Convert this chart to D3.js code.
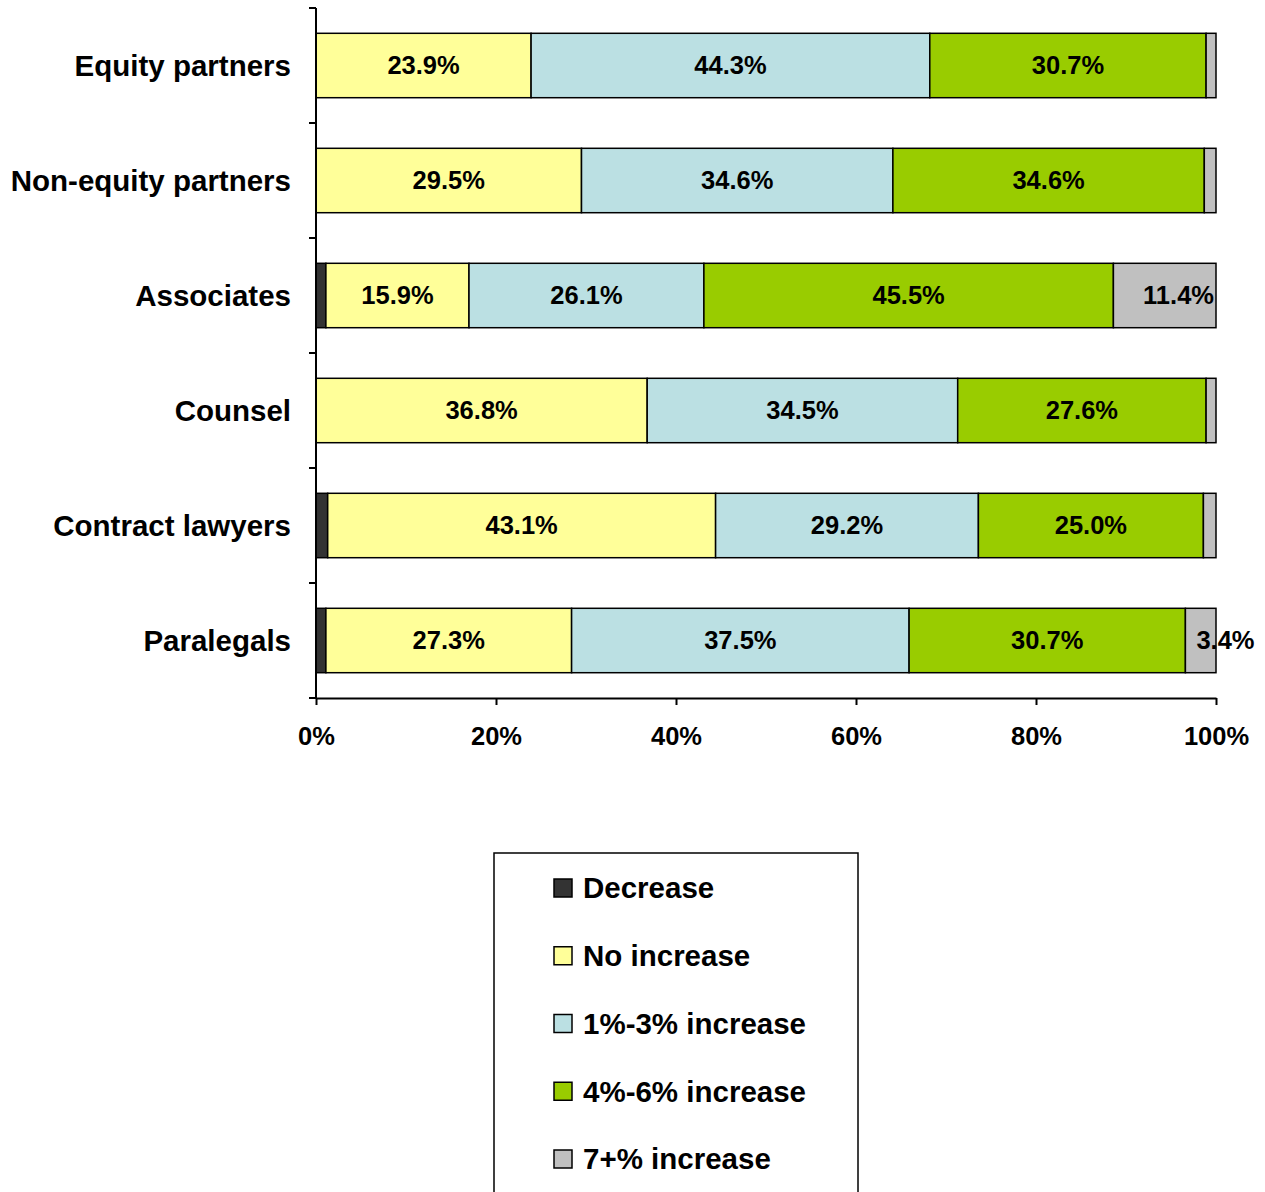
<!DOCTYPE html>
<html>
<head>
<meta charset="utf-8">
<script src="https://cdn.jsdelivr.net/npm/d3@7"></script>
<style>
  body { margin: 0; background: #fff; }
  svg text { font-family: Arial, "Liberation Sans", sans-serif; font-weight: bold; fill: #000; }
</style>
</head>
<body>
<svg id="chart"></svg>
<script>
const categories = ["Equity partners", "Non-equity partners", "Associates", "Counsel", "Contract lawyers", "Paralegals"];
const seriesNames = ["Decrease", "No increase", "1%-3% increase", "4%-6% increase", "7+% increase"];
const seriesColors = ["#333333", "#FFFF99", "#BBE0E3", "#99CC00", "#C0C0C0"];

const decrease   = [0, 0, 1.1, 0, 1.3, 1.1];
const noIncrease = [23.9, 29.5, 15.9, 36.8, 43.1, 27.3];
const inc1to3    = [44.3, 34.6, 26.1, 34.5, 29.2, 37.5];
const inc4to6    = [30.7, 34.6, 45.5, 27.6, 25.0, 30.7];
const inc7plus   = [1.1, 1.3, 11.4, 1.1, 1.4, 3.4];

const xTicks = [0, 0.2, 0.4, 0.6, 0.8, 1];

const width = 1265;
const height = 1192;

const svg = d3.select("#chart")
  .attr("width", width)
  .attr("height", height);

// build rows for the stack
const allSeries = [decrease, noIncrease, inc1to3, inc4to6, inc7plus];
const rows = categories.map((c, i) => {
  const r = { category: c };
  seriesNames.forEach((s, j) => r[s] = allSeries[j][i]);
  return r;
});

const stacked = d3.stack()
  .keys(seriesNames)
  .offset(d3.stackOffsetExpand)(rows);

const x = d3.scaleLinear().domain([0, 1]).range([316, 1216]);
const y = d3.scaleBand()
  .domain(categories)
  .range([8, 698])
  .paddingInner(0.44)
  .paddingOuter(0.22);

const color = d3.scaleOrdinal().domain(seriesNames).range(seriesColors);

// bars
const layer = svg.selectAll("g.layer")
  .data(stacked)
  .join("g")
  .attr("class", "layer")
  .attr("fill", d => color(d.key));

layer.selectAll("rect")
  .data(d => d.filter(p => p[1] - p[0] > 0))
  .join("rect")
  .attr("x", d => x(d[0]))
  .attr("y", d => y(d.data.category))
  .attr("width", d => x(d[1]) - x(d[0]))
  .attr("height", y.bandwidth())
  .attr("stroke", "#000")
  .attr("stroke-width", 1.5);

// value labels (small slices are left unlabelled)
stacked.forEach((s, si) => {
  s.forEach(d => {
    const v = d.data[s.key];
    if (v < 2) return;
    const x0 = x(d[0]), x1 = x(d[1]);
    const t = svg.append("text")
      .attr("y", y(d.data.category) + y.bandwidth() / 2)
      .attr("dy", "0.35em")
      .style("font-size", "25.5px")
      .text(v.toFixed(1) + "%");
    if (si === seriesNames.length - 1) {
      const w = t.node().getComputedTextLength();
      if (w > x1 - x0) t.attr("x", x0 + 11).attr("text-anchor", "start");
      else t.attr("x", x1 - 2).attr("text-anchor", "end");
    } else {
      t.attr("x", (x0 + x1) / 2).attr("text-anchor", "middle");
    }
  });
});

// y axis line + category boundary ticks
const gap = (y.step() - y.bandwidth()) / 2;
const yAxis = svg.append("g");
yAxis.append("line")
  .attr("x1", x(0)).attr("x2", x(0))
  .attr("y1", y.range()[0]).attr("y2", y.range()[1])
  .attr("stroke", "#000").attr("stroke-width", 2);
const bounds = categories.map(c => y(c) - gap).concat([y.range()[1]]);
yAxis.selectAll("line.tick")
  .data(bounds)
  .join("line")
  .attr("class", "tick")
  .attr("x1", x(0) - 7).attr("x2", x(0))
  .attr("y1", d => d).attr("y2", d => d)
  .attr("stroke", "#000").attr("stroke-width", 2);
yAxis.selectAll("text")
  .data(categories)
  .join("text")
  .attr("x", x(0) - 25)
  .attr("y", d => y(d) + y.bandwidth() / 2)
  .attr("dy", "0.35em")
  .attr("text-anchor", "end")
  .style("font-size", "29.5px")
  .text(d => d);

// x axis
const xAxis = svg.append("g")
  .attr("transform", `translate(0,${y.range()[1]})`)
  .call(d3.axisBottom(x)
    .tickValues(xTicks)
    .tickFormat(d3.format(".0%"))
    .tickSize(7)
    .tickSizeOuter(0)
    .tickPadding(22));
xAxis.select(".domain").attr("stroke", "#000").attr("stroke-width", 2);
xAxis.selectAll(".tick line").attr("stroke", "#000").attr("stroke-width", 2);
xAxis.selectAll(".tick text")
  .style("font-size", "25.5px")
  .style("font-family", "Arial, 'Liberation Sans', sans-serif")
  .style("font-weight", "bold")
  .attr("fill", "#000");

// legend
const legend = svg.append("g");
legend.append("rect")
  .attr("x", 494).attr("y", 853)
  .attr("width", 364).attr("height", 360)
  .attr("fill", "#fff")
  .attr("stroke", "#000").attr("stroke-width", 1.5);

const legendY = d3.scalePoint().domain(seriesNames).range([888, 1159]);

const item = legend.selectAll("g.item")
  .data(seriesNames)
  .join("g")
  .attr("class", "item")
  .attr("transform", d => `translate(0,${legendY(d)})`);
item.append("rect")
  .attr("x", 554).attr("y", -9)
  .attr("width", 18).attr("height", 18)
  .attr("fill", d => color(d))
  .attr("stroke", "#000").attr("stroke-width", 1.5);
item.append("text")
  .attr("x", 583)
  .attr("dy", "0.35em")
  .style("font-size", "29.5px")
  .text(d => d);
</script>
</body>
</html>
